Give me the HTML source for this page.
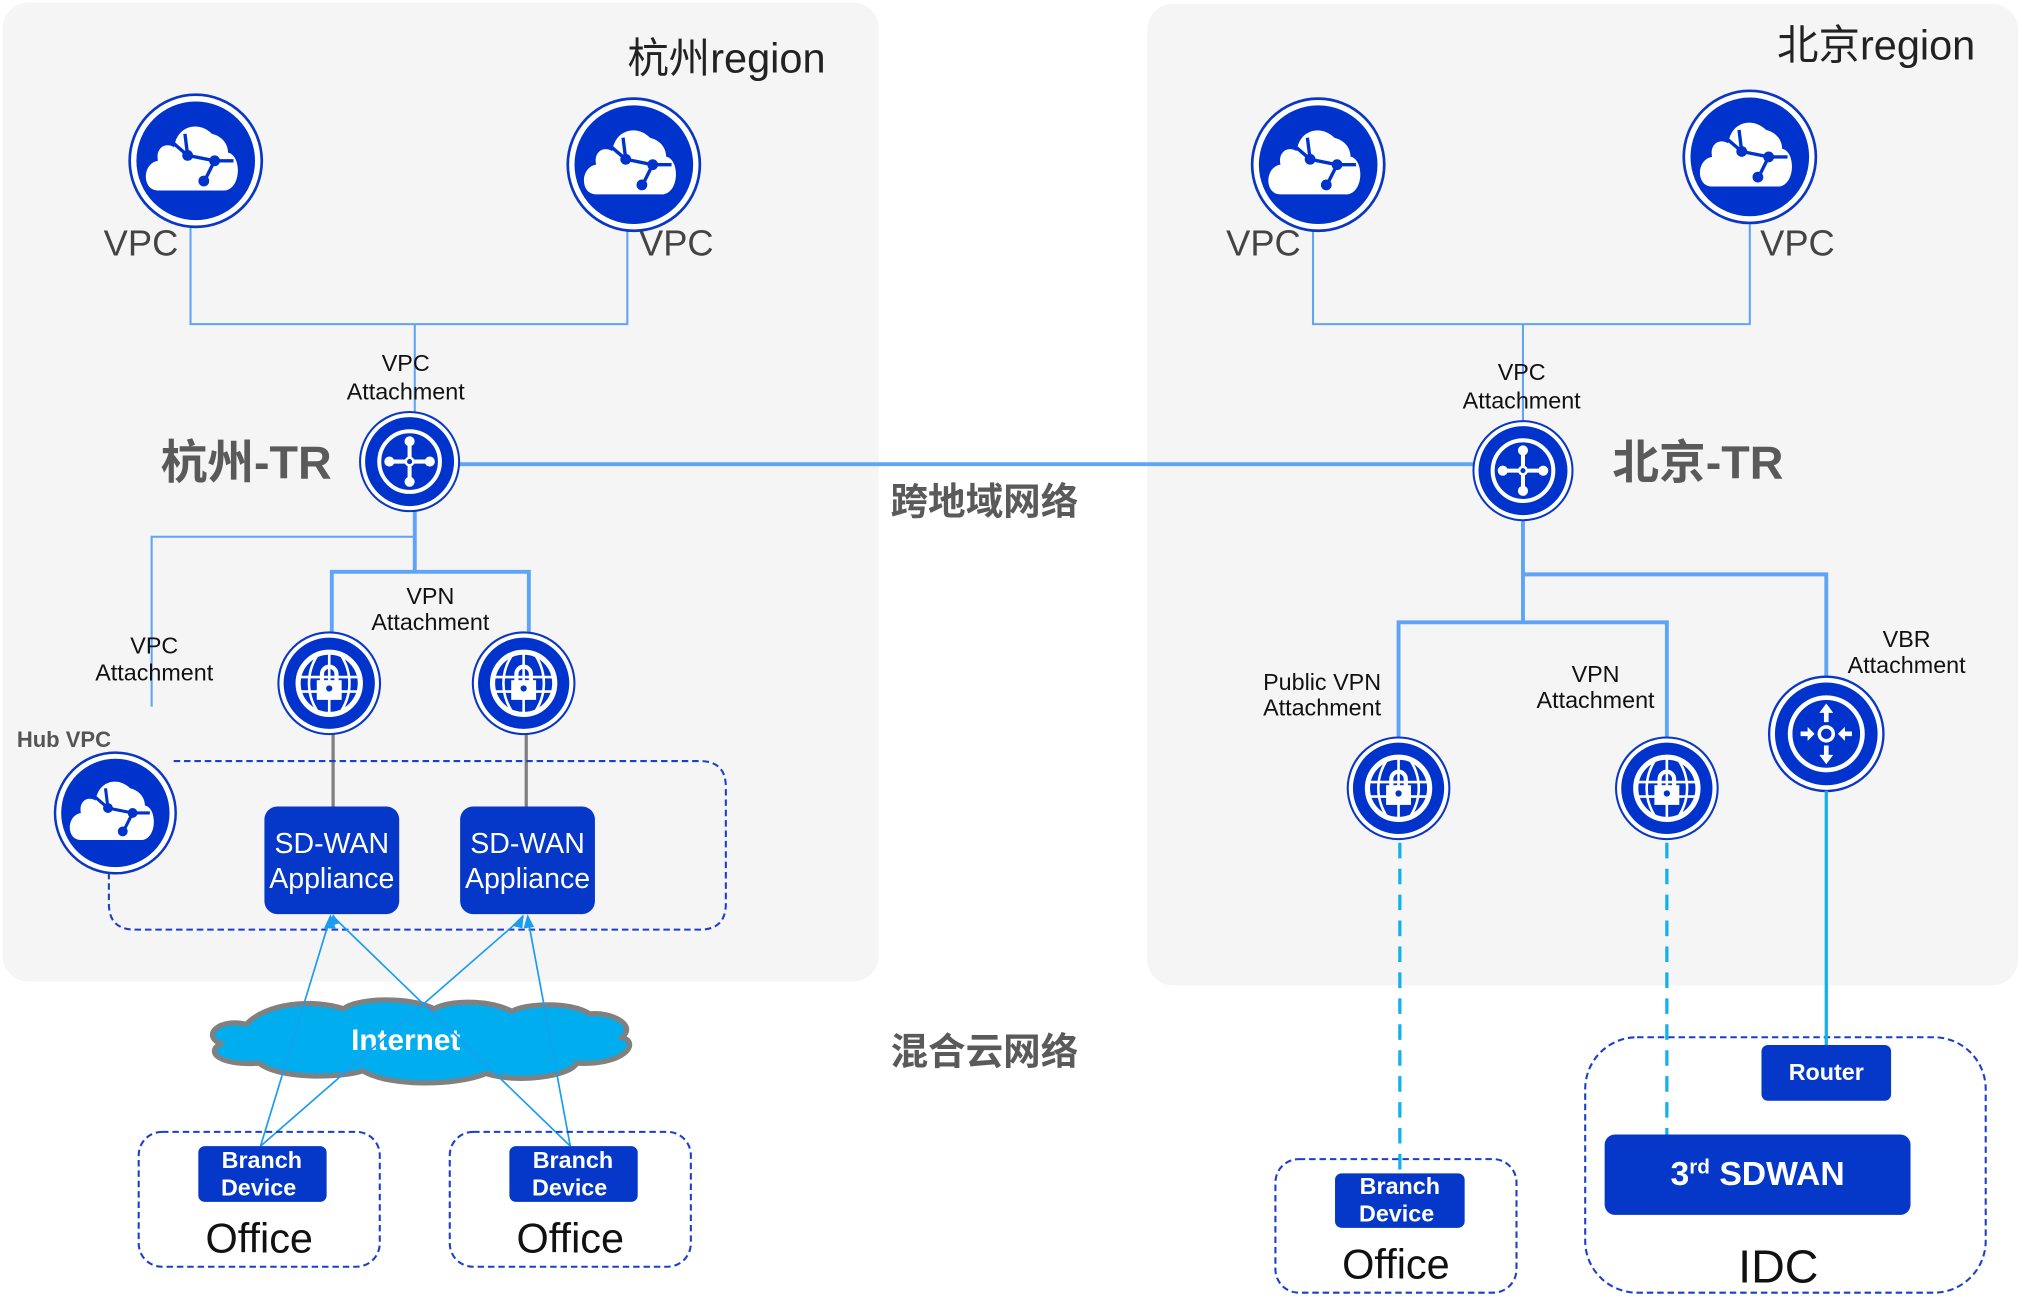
<!DOCTYPE html>
<html><head><meta charset="utf-8"><style>
html,body{margin:0;padding:0;background:#fff;}
svg{display:block;}
text{font-family:"Liberation Sans","Noto Sans CJK SC",sans-serif;}
</style></head><body>
<svg width="2022" height="1316" viewBox="0 0 1560 1015" preserveAspectRatio="none" xmlns="http://www.w3.org/2000/svg">
<defs>
<g id="ring">
<circle cx="0" cy="0" r="49" fill="#fff" stroke="#0a36c8" stroke-width="2"/>
<circle cx="0" cy="0" r="44" fill="#0033cc"/>
</g>
<g id="vpc">
<use href="#ring"/>
<path d="M-28,22 C-40,22 -40,2 -28,0 C-30,-10 -22,-14 -16,-10 C-14,-26 2,-30 12,-20 C20,-18 24,-12 24,-6 C34,-4 34,20 22,22 Z" fill="#fff"/>
<path d="M-20,-16 L-6,-4 L14,0 L6,16 M14,0 L28,0 M-8,-20 L-6,-4" stroke="#0033cc" stroke-width="2.5" fill="none"/>
<circle cx="-6" cy="-4" r="4" fill="#0033cc"/><circle cx="14" cy="0" r="4" fill="#0033cc"/><circle cx="6" cy="15" r="4" fill="#0033cc"/>
</g>
<g id="tr">
<use href="#ring"/>
<circle r="30" fill="none" stroke="#fff" stroke-width="4"/>
<path d="M0,-20 V20 M-20,0 H20" stroke="#fff" stroke-width="4"/>
<circle cx="0" cy="-20" r="5" fill="#fff"/><circle cx="0" cy="20" r="5" fill="#fff"/><circle cx="-20" cy="0" r="5" fill="#fff"/><circle cx="20" cy="0" r="5" fill="#fff"/>
<circle r="5" fill="#fff"/><circle r="2.5" fill="#0033cc"/>
</g>
<g id="vpn">
<use href="#ring"/>
<circle r="30" fill="none" stroke="#fff" stroke-width="5"/>
<path d="M-28,-6 H28 M-28,8 H28 M0,-28 V28 M-12,-26 C-22,-10 -22,10 -12,26 M12,-26 C22,-10 22,10 12,26" stroke="#fff" stroke-width="2.5" fill="none"/>
<path d="M-7,-2 V-9 A7,7 0 0 1 7,-9 V-2" stroke="#fff" stroke-width="4" fill="none"/>
<rect x="-12" y="-3" width="24" height="19" fill="#fff"/>
<circle cx="0" cy="5" r="3" fill="#0033cc"/>
</g>
<g id="vbr">
<use href="#ring"/>
<circle r="31" fill="none" stroke="#fff" stroke-width="4"/>
<circle r="6" fill="none" stroke="#fff" stroke-width="3"/>
<path d="M0,-10 V-22 M0,10 V22 M-12,0 H-22 M12,0 H22" stroke="#fff" stroke-width="4"/>
<path d="M-6,-18 L0,-26 L6,-18 Z M-6,18 L0,26 L6,18 Z M-16,-6 L-10,0 L-16,6 Z M16,-6 L10,0 L16,6 Z" fill="#fff"/>
</g>
</defs>

<!-- panels -->
<rect x="2" y="2" width="676" height="755" rx="20" fill="#f5f5f5"/>
<rect x="885" y="3" width="672" height="757" rx="20" fill="#f5f5f5"/>

<text x="484" y="56" font-size="32" fill="#222">杭州region</text>
<text x="1371" y="46" font-size="32" fill="#222">北京region</text>

<!-- left lines -->
<g stroke="#5fa4f6" fill="none">
<path d="M147,175 V250 H484 V175" stroke-width="1.6"/>
<path d="M320,250 V318" stroke-width="1.6"/>
<path d="M354,358 H1137" stroke-width="3"/>
<path d="M320,394 V441" stroke-width="3"/>
<path d="M320,414 H117 V545" stroke-width="1.6"/>
<path d="M256,488 V441 H408 V488" stroke-width="3"/>
<path d="M1013,175 V250 H1350 V170" stroke-width="1.6"/>
<path d="M1175,250 V325" stroke-width="1.6"/>
<path d="M1175,401 V480" stroke-width="3"/>
<path d="M1175,443 H1409 V522" stroke-width="3"/>
<path d="M1079,569 V480 H1286 V569" stroke-width="3"/>
</g>
<path d="M257,566 V622 M406,566 V622" stroke="#7f7f7f" stroke-width="2.5"/>

<text font-size="18" fill="#111" text-anchor="middle"><tspan x="313" y="286">VPC</tspan><tspan x="313" y="308">Attachment</tspan></text>
<text font-size="18" fill="#111" text-anchor="middle"><tspan x="332" y="466">VPN</tspan><tspan x="332" y="486">Attachment</tspan></text>
<text font-size="18" fill="#111" text-anchor="middle"><tspan x="119" y="504">VPC</tspan><tspan x="119" y="525">Attachment</tspan></text>
<text font-size="18" fill="#111" text-anchor="middle"><tspan x="1174" y="293">VPC</tspan><tspan x="1174" y="315">Attachment</tspan></text>
<text font-size="18" fill="#111" text-anchor="middle"><tspan x="1020" y="532">Public VPN</tspan><tspan x="1020" y="552">Attachment</tspan></text>
<text font-size="18" fill="#111" text-anchor="middle"><tspan x="1231" y="526">VPN</tspan><tspan x="1231" y="546">Attachment</tspan></text>
<text font-size="18" fill="#111" text-anchor="middle"><tspan x="1471" y="499">VBR</tspan><tspan x="1471" y="519">Attachment</tspan></text>

<text font-size="28" fill="#444"><tspan x="80" y="197">VPC</tspan><tspan x="493" y="197">VPC</tspan><tspan x="946" y="197">VPC</tspan><tspan x="1358" y="197">VPC</tspan></text>

<text x="124" y="369" font-size="36" font-weight="bold" fill="#5a5a5a">杭州-TR</text>
<text x="1244" y="369" font-size="36" font-weight="bold" fill="#5a5a5a">北京-TR</text>
<text x="687" y="397" font-size="29" font-weight="bold" fill="#5a5a5a">跨地域网络</text>
<text x="687" y="821" font-size="29" font-weight="bold" fill="#5a5a5a">混合云网络</text>
<text x="13" y="576" font-size="17" font-weight="bold" fill="#555">Hub VPC</text>

<!-- icons -->
<use href="#vpc" transform="translate(151,124) scale(1.04)"/>
<use href="#vpc" transform="translate(489,127) scale(1.04)"/>
<use href="#vpc" transform="translate(1017,127) scale(1.04)"/>
<use href="#vpc" transform="translate(1350,121) scale(1.04)"/>
<use href="#tr" transform="translate(316,356) scale(0.78)"/>
<use href="#tr" transform="translate(1175,363) scale(0.78)"/>
<use href="#vpn" transform="translate(254,527) scale(0.8)"/>
<use href="#vpn" transform="translate(404,527) scale(0.8)"/>
<use href="#vpn" transform="translate(1079,608) scale(0.8)"/>
<use href="#vpn" transform="translate(1286,608) scale(0.8)"/>
<use href="#vbr" transform="translate(1409,566) scale(0.9)"/>

<!-- hub vpc box -->
<path d="M134,587 H540 Q560,587 560,607 V697 Q560,717 540,717 H104 Q84,717 84,697 V668" fill="none" stroke="#1a3fcc" stroke-width="1.6" stroke-dasharray="5,3"/>
<use href="#vpc" transform="translate(89,627) scale(0.95)"/>

<g fill="#0538c8">
<rect x="204" y="622" width="104" height="83" rx="10"/>
<rect x="355" y="622" width="104" height="83" rx="10"/>
</g>
<text font-size="22" fill="#fff" text-anchor="middle"><tspan x="256" y="658">SD-WAN</tspan><tspan x="256" y="685">Appliance</tspan><tspan x="407" y="658">SD-WAN</tspan><tspan x="407" y="685">Appliance</tspan></text>

<!-- internet cloud -->
<path d="M190,790 C170,785 155,798 170,805 C158,812 170,822 200,820 C215,832 260,832 280,826 C300,838 350,838 375,828 C400,836 440,830 445,820 C480,822 495,805 480,800 C492,790 470,780 455,782 C440,772 405,774 395,780 C375,770 345,772 335,778 C315,768 275,770 265,778 C240,770 205,774 190,790 Z" fill="#00aeef" stroke="#808080" stroke-width="4"/>
<text x="313" y="810" font-size="23" font-weight="bold" fill="#fff" text-anchor="middle">Internet</text>

<!-- arrows -->
<g stroke="#1a9cf0" stroke-width="1.3" fill="none">
<path d="M201,884 L255,707 M201,884 L404,707 M440,884 L257,707 M440,884 L407,707"/>
</g>
<g fill="#1a9cf0">
<path d="M255,705 L250,716 L259,716 Z M257,705 L253,715 L262,712 Z M404,705 L395,714 L403,716 Z M407,705 L404,716 L412,715 Z"/>
</g>

<!-- offices left -->
<g fill="none" stroke="#1a3fcc" stroke-width="1.6" stroke-dasharray="5,3">
<rect x="107" y="873" width="186" height="104" rx="18"/>
<rect x="347" y="873" width="186" height="104" rx="18"/>
<rect x="984" y="894" width="186" height="103" rx="18"/>
<rect x="1223" y="800" width="309" height="197" rx="40"/>
</g>
<g fill="#0538c8">
<rect x="153" y="884" width="99" height="43" rx="5"/>
<rect x="393" y="884" width="99" height="43" rx="5"/>
<rect x="1030" y="905" width="100" height="42" rx="5"/>
<rect x="1359" y="806" width="100" height="43" rx="5"/>
<rect x="1238" y="875" width="236" height="62" rx="8"/>
</g>
<text font-size="18" font-weight="bold" fill="#fff" text-anchor="middle">
<tspan x="202" y="901">Branch</tspan><tspan x="202" y="922">Device</tspan>
<tspan x="442" y="901">Branch</tspan><tspan x="442" y="922">Device</tspan>
<tspan x="1080" y="921">Branch</tspan><tspan x="1080" y="942">Device</tspan>
<tspan x="1409" y="833">Router</tspan>
</text>
<text x="1356" y="914" font-size="26" font-weight="bold" fill="#fff" text-anchor="middle">3<tspan font-size="16" dy="-9">rd</tspan><tspan dy="9"> SDWAN</tspan></text>
<text font-size="32" fill="#111" text-anchor="middle"><tspan x="200" y="966">Office</tspan><tspan x="440" y="966">Office</tspan><tspan x="1077" y="986">Office</tspan></text>
<text x="1372" y="989" font-size="36" fill="#111" text-anchor="middle">IDC</text>

<!-- right cyan connectors -->
<path d="M1080,650 V905 M1286,650 V875" stroke="#12b0ec" stroke-width="2.5" stroke-dasharray="12,8"/>
<path d="M1409,610 V806" stroke="#12b0ec" stroke-width="2.5"/>
</svg>
</body></html>
